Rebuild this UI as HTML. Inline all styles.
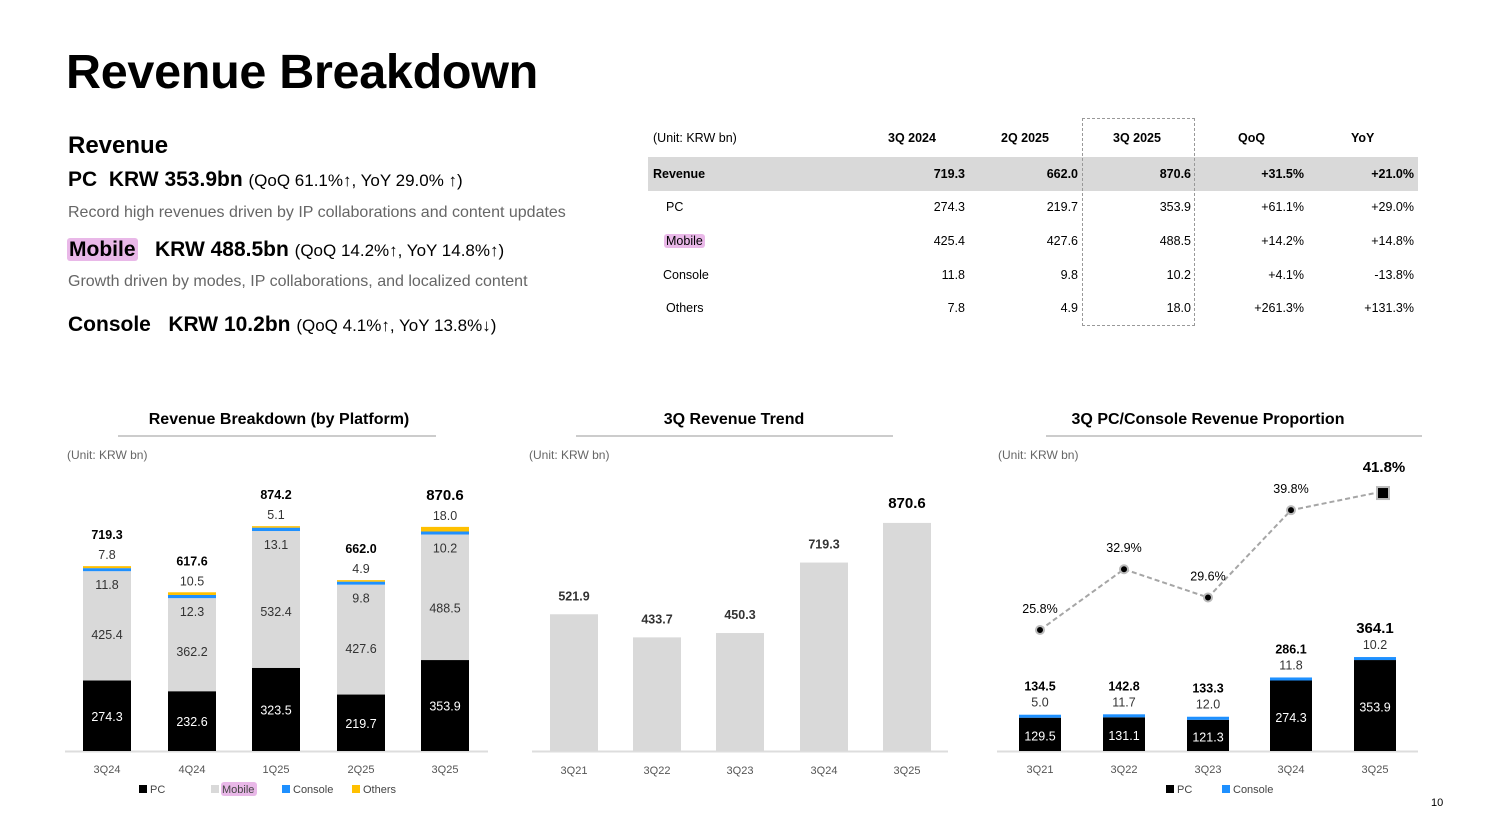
<!DOCTYPE html>
<html><head><meta charset="utf-8">
<style>
body{margin:0;width:1489px;height:826px;background:#fff;font-family:"Liberation Sans",sans-serif;position:relative;overflow:hidden;color:#000}
.a{position:absolute;white-space:nowrap}
.hl{background:#e9b8e8;border-radius:3px;padding:0 2px}
.g{color:#666}
.t{font-size:12.5px}
.r{text-align:right;width:80px}
</style></head><body>
<div class="a" style="left:66px;top:44px;font-size:48.5px;font-weight:bold;letter-spacing:-0.3px">Revenue Breakdown</div>
<div class="a" style="left:68px;top:132px;font-size:24px;font-weight:bold">Revenue</div>
<div class="a" style="left:68px;top:168px;font-size:21px"><b>PC&nbsp; KRW 353.9bn</b> <span style="font-size:17px">(QoQ 61.1%↑, YoY 29.0% ↑)</span></div>
<div class="a g" style="left:68px;top:204px;font-size:16px">Record high revenues driven by IP collaborations and content updates</div>
<div class="a" style="left:67px;top:238px;font-size:21px"><b><span class="hl">Mobile</span>&nbsp;&nbsp; KRW 488.5bn</b> <span style="font-size:17px">(QoQ 14.2%↑, YoY 14.8%↑)</span></div>
<div class="a g" style="left:68px;top:273px;font-size:16px">Growth driven by modes, IP collaborations, and localized content</div>
<div class="a" style="left:68px;top:313px;font-size:21px"><b>Console&nbsp;&nbsp; KRW 10.2bn</b> <span style="font-size:17px">(QoQ 4.1%↑, YoY 13.8%↓)</span></div>

<div class="a" style="left:648px;top:118px;width:770px;height:210px">
  <div class="a" style="left:0;top:39px;width:770px;height:34px;background:#d9d9d9"></div>
  <div class="a" style="left:434px;top:0;width:111px;height:206px;border:1px dashed #999"></div>
  <div class="a t" style="left:5px;top:13px">(Unit: KRW bn)</div>
  <div class="a t" style="left:240px;top:13px;font-weight:bold">3Q 2024</div>
  <div class="a t" style="left:353px;top:13px;font-weight:bold">2Q 2025</div>
  <div class="a t" style="left:465px;top:13px;font-weight:bold">3Q 2025</div>
  <div class="a t" style="left:590px;top:13px;font-weight:bold">QoQ</div>
  <div class="a t" style="left:703px;top:13px;font-weight:bold">YoY</div>
  <div id="rows"></div>
</div>

<svg class="a" style="left:0;top:0" width="1489" height="826" id="ch"></svg>
<div class="a" style="left:1431px;top:797px;font-size:11px">10</div>

<script>
const rowLabels=["Revenue","PC","Mobile","Console","Others"];
const v3q24=["719.3","274.3","425.4","11.8","7.8"];
const v2q25=["662.0","219.7","427.6","9.8","4.9"];
const v3q25=["870.6","353.9","488.5","10.2","18.0"];
const vqoq=["+31.5%","+61.1%","+14.2%","+4.1%","+261.3%"];
const vyoy=["+21.0%","+29.0%","+14.8%","-13.8%","+131.3%"];
const rowsEl=document.getElementById('rows');
const rowY=[49,82,116,150,183];
const lx=[5,18,16,15,18];
rowLabels.forEach((l,i)=>{
  const b=i===0?'font-weight:bold;':'';
  const cells=[[l,lx[i],'left'],[v3q24[i],237],[v2q25[i],350],[v3q25[i],463],[vqoq[i],576],[vyoy[i],686]];
  cells.forEach((c,j)=>{
    const d=document.createElement('div');
    d.className='a t';
    
    
    d.style.cssText=b+'top:'+rowY[i]+'px;left:'+c[1]+'px;'+(j>0?'width:80px;text-align:right;':'');
    if(j===0&&l==='Mobile'){d.innerHTML='<span class="hl">Mobile</span>';}else d.textContent=c[0];
    rowsEl.appendChild(d);
  });
});

const c1Cats=["3Q24","4Q24","1Q25","2Q25","3Q25"];
const c1PC=[274.3,232.6,323.5,219.7,353.9];
const c1Mobile=[425.4,362.2,532.4,427.6,488.5];
const c1Console=[11.8,12.3,13.1,9.8,10.2];
const c1Others=[7.8,10.5,5.1,4.9,18.0];
const c1Total=[719.3,617.6,874.2,662.0,870.6];
const c2Cats=["3Q21","3Q22","3Q23","3Q24","3Q25"];
const c2Vals=[521.9,433.7,450.3,719.3,870.6];
const c3Cats=["3Q21","3Q22","3Q23","3Q24","3Q25"];
const c3PC=[129.5,131.1,121.3,274.3,353.9];
const c3Console=[5.0,11.7,12.0,11.8,10.2];
const c3Total=[134.5,142.8,133.3,286.1,364.1];
const c3Pct=[25.8,32.9,29.6,39.8,41.8];

const svg=document.getElementById('ch');
const NS='http://www.w3.org/2000/svg';
function el(tag,attrs,name,txt){
  const e=document.createElementNS(NS,tag);
  for(const k in attrs)e.setAttribute(k,attrs[k]);
  
  
  if(txt!==undefined)e.textContent=txt;
  svg.appendChild(e);return e;
}
function txt(x,y,s,size,opt){opt=opt||{};
  return el('text',{x:x,y:y,'font-size':size,'text-anchor':opt.anchor||'middle','font-weight':opt.bold?'bold':'normal',fill:opt.fill||'#000','font-family':'Liberation Sans, sans-serif'},opt.name||'label',s);}
const base=751;
const yS=v=>v*0.257;
const yS2=v=>v*0.262;
const pctY=p=>630-(p-25.8)*8.56;
const minH=h=>Math.max(h,3);

function heading(x1,x2,cx,title,unitX){
  txt(cx,424,title,16,{bold:true,name:'chart-title'});
  el('line',{x1:x1,x2:x2,y1:436,y2:436,stroke:'#999','stroke-width':1},'title-underline');
  txt(unitX,459,'(Unit: KRW bn)',12,{anchor:'start',fill:'#666',name:'unit-label'});
}
heading(118,436,279,'Revenue Breakdown (by Platform)',67);
heading(576,893,734,'3Q Revenue Trend',529);
heading(1046,1422,1208,'3Q PC/Console Revenue Proportion',998);

const c1x=[107,192,276,361,445];
el('line',{x1:65,x2:488,y1:751.5,y2:751.5,stroke:'#ddd','stroke-width':2},'x-axis');
c1Cats.forEach((c,i)=>{
  const x=c1x[i]-24,w=48;
  let y=base;
  const hp=yS(c1PC[i]);y-=hp;
  el('rect',{x:x,y:y,width:w,height:hp,fill:'#000'},'bar-pc');
  txt(c1x[i],y+hp/2+5,c1PC[i].toFixed(1),12.5,{fill:'#fff',name:'pc-value'});
  const hm=yS(c1Mobile[i]);const my=y-hm;
  el('rect',{x:x,y:my,width:w,height:hm,fill:'#d9d9d9'},'bar-mobile');
  txt(c1x[i],my+hm*0.62,c1Mobile[i].toFixed(1),12.5,{fill:'#333',name:'mobile-value'});
  const hc=minH(yS(c1Console[i]));const cy=my-hc;
  el('rect',{x:x,y:cy,width:w,height:hc,fill:'#1e90ff'},'bar-console');
  txt(c1x[i],my+18,c1Console[i].toFixed(1),12.5,{fill:'#333',name:'console-value'});
  const ho=Math.max(yS(c1Others[i]),1.5);const oy=cy-ho;
  el('rect',{x:x,y:oy,width:w,height:ho,fill:'#ffc000'},'bar-others');
  txt(c1x[i],oy-7,c1Others[i].toFixed(1),12.5,{fill:'#333',name:'others-value'});
  const last=i===c1Cats.length-1;
  txt(c1x[i],oy-27,c1Total[i].toFixed(1),last?15:12.5,{bold:true,name:'total-value'});
  txt(c1x[i],773,c,11,{fill:'#555',name:'x-tick'});
});
[[139,'#000','PC'],[211,'#d9d9d9','Mobile'],[282,'#1e90ff','Console'],[352,'#ffc000','Others']].forEach(l=>{
  el('rect',{x:l[0],y:785,width:8,height:8,fill:l[1]},'legend-swatch');
  if(l[2]==='Mobile')el('rect',{x:l[0]+10,y:782,width:36,height:14,rx:3,fill:'#e9b8e8'},'legend-highlight');
  txt(l[0]+11,793,l[2],11,{anchor:'start',fill:'#444',name:'legend-entry'});
});

const c2x=[574,657,740,824,907];
el('line',{x1:532,x2:948,y1:751.5,y2:751.5,stroke:'#ddd','stroke-width':2},'x-axis');
c2Cats.forEach((c,i)=>{
  const h=yS2(c2Vals[i]);
  el('rect',{x:c2x[i]-24,y:base-h,width:48,height:h,fill:'#d9d9d9'},'bar-revenue');
  const last=i===c2Cats.length-1;
  txt(c2x[i],base-h-(last?15:14),c2Vals[i].toFixed(1),last?15:12.5,{bold:true,fill:last?'#000':'#333',name:'bar-value'});
  txt(c2x[i],774,c,11,{fill:'#555',name:'x-tick'});
});

const c3x=[1040,1124,1208,1291,1375];
el('line',{x1:997,x2:1418,y1:751.5,y2:751.5,stroke:'#ddd','stroke-width':2},'x-axis');
c3Cats.forEach((c,i)=>{
  const x=c3x[i]-21,w=42;
  const hp=yS(c3PC[i]);const py=base-hp;
  el('rect',{x:x,y:py,width:w,height:hp,fill:'#000'},'bar-pc');
  txt(c3x[i],py+hp/2+6,c3PC[i].toFixed(1),12.5,{fill:'#fff',name:'pc-value'});
  const hc=minH(yS(c3Console[i]));const cy=py-hc;
  el('rect',{x:x,y:cy,width:w,height:hc,fill:'#1e90ff'},'bar-console');
  txt(c3x[i],cy-8,c3Console[i].toFixed(1),12.5,{fill:'#333',name:'console-value'});
  const last=i===c3Cats.length-1;
  txt(c3x[i],cy-24,c3Total[i].toFixed(1),last?15:12.5,{bold:true,name:'total-value'});
  txt(c3x[i],773,c,11,{fill:'#555',name:'x-tick'});
});
const pts=c3Pct.map((p,i)=>c3x[i]+','+pctY(p)).join(' ');
el('polyline',{points:pts,fill:'none',stroke:'#a6a6a6','stroke-width':2,'stroke-dasharray':'5,3'},'proportion-line');
c3Pct.forEach((p,i)=>{
  const last=i===c3Pct.length-1,y=pctY(p);
  if(last){el('rect',{x:c3x[i]+2,y:y-6,width:12,height:12,fill:'#000',stroke:'#bbb','stroke-width':2},'proportion-marker');}
  else el('circle',{cx:c3x[i],cy:y,r:4,fill:'#000',stroke:'#bbb','stroke-width':2},'proportion-marker');
  txt(c3x[i]+(last?9:0),last?y-21:y-17,p.toFixed(1)+'%',last?15:12.5,{bold:last,name:'proportion-value'});
});
[[1166,'#000','PC'],[1222,'#1e90ff','Console']].forEach(l=>{
  el('rect',{x:l[0],y:785,width:8,height:8,fill:l[1]},'legend-swatch');
  txt(l[0]+11,793,l[2],11,{anchor:'start',fill:'#444',name:'legend-entry'});
});
</script>
</body></html>
